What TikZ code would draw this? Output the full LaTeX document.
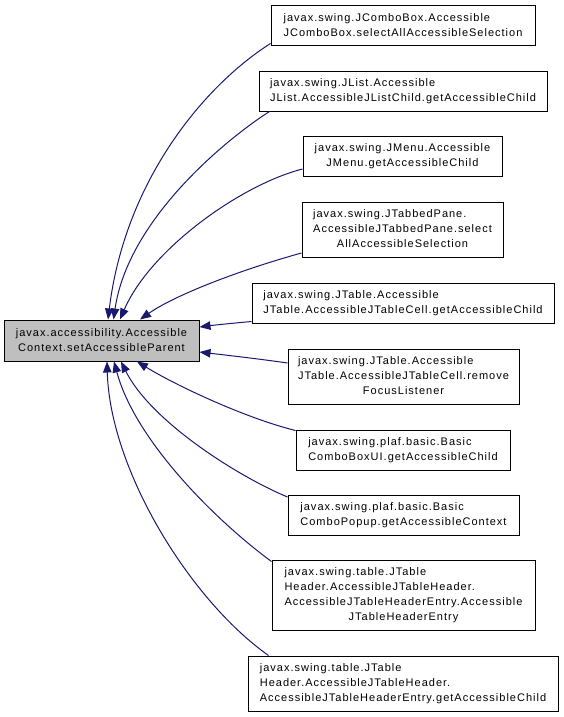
\documentclass[tikz,border=0pt]{standalone}
\usepackage{fontspec}
\setmainfont{Liberation Sans}[LetterSpace=9.1]
\usetikzlibrary{arrows.meta}
\definecolor{edgeblue}{HTML}{191970}
\definecolor{mainfill}{HTML}{BFBFBF}
\newcommand\lastln[1]{\multicolumn{1}{@{}c@{}}{#1}}
\newcommand\lbl[1]{\begin{tabular}{@{}l@{}}#1\end{tabular}}
\begin{document}
\begin{tikzpicture}[x=1pt,y=-1pt,
  cls/.style={draw=black, line width=1pt, rectangle, inner sep=0pt, fill=white,
    font=\fontsize{11}{15}\selectfont},
  dep/.style={draw=edgeblue, line width=1pt, -{Triangle[length=11pt,width=8.5pt]}, edgeblue}]
\useasboundingbox (0,0) rectangle (564,717);

\node[cls, fill=mainfill, minimum width=195pt, minimum height=41pt] (main) at (101.5,340.5)
  {\lbl{javax.accessibility.Accessible\\ \lastln{Context.setAccessibleParent}}};

\node[cls, minimum width=264pt, minimum height=40pt] (n1) at (403,26)
  {\lbl{javax.swing.JComboBox.Accessible\\ \lastln{JComboBox.selectAllAccessibleSelection}}};
\node[cls, minimum width=288pt, minimum height=40pt] (n2) at (403,91)
  {\lbl{javax.swing.JList.Accessible\\ \lastln{JList.AccessibleJListChild.getAccessibleChild}}};
\node[cls, minimum width=199pt, minimum height=40pt] (n3) at (402.5,156)
  {\lbl{javax.swing.JMenu.Accessible\\ \lastln{JMenu.getAccessibleChild}}};
\node[cls, minimum width=201pt, minimum height=55pt] (n4) at (402.5,229.5)
  {\lbl{javax.swing.JTabbedPane.\\ AccessibleJTabbedPane.select\\ \lastln{AllAccessibleSelection}}};
\node[cls, minimum width=302pt, minimum height=40pt] (n5) at (403,303)
  {\lbl{javax.swing.JTable.Accessible\\ \lastln{JTable.AccessibleJTableCell.getAccessibleChild}}};
\node[cls, minimum width=231pt, minimum height=55pt] (n6) at (403.5,376.5)
  {\lbl{javax.swing.JTable.Accessible\\ JTable.AccessibleJTableCell.remove\\ \lastln{FocusListener}}};
\node[cls, minimum width=214pt, minimum height=40pt] (n7) at (403,450)
  {\lbl{javax.swing.plaf.basic.Basic\\ \lastln{ComboBoxUI.getAccessibleChild}}};
\node[cls, minimum width=231pt, minimum height=40pt] (n8) at (403.5,515)
  {\lbl{javax.swing.plaf.basic.Basic\\ \lastln{ComboPopup.getAccessibleContext}}};
\node[cls, minimum width=263pt, minimum height=70pt] (n9) at (403.5,595)
  {\lbl{javax.swing.table.JTable\\ Header.AccessibleJTableHeader.\\ AccessibleJTableHeaderEntry.Accessible\\ \lastln{JTableHeaderEntry}}};
\node[cls, minimum width=310pt, minimum height=55pt] (n10) at (403,683.5)
  {\lbl{javax.swing.table.JTable\\ Header.AccessibleJTableHeader.\\ \lastln{AccessibleJTableHeaderEntry.getAccessibleChild}}};

\draw[dep] ([yshift=3pt]n1.south west) .. controls (205,85) and (125,180) .. ([xshift=6.5pt]main.north);
\draw[dep] ([xshift=11pt]n2.south west) .. controls (225,140) and (128,220) .. ([xshift=12pt]main.north);
\draw[dep] ([yshift=-13pt]n3.west) .. controls (240,185) and (150,250) .. ([xshift=18.5pt]main.north);
\draw[dep] ([yshift=-23.5pt]n4.west) .. controls (240,270) and (175,295) .. ([xshift=38.5pt]main.north);
\draw[dep] ([yshift=2pt]n5.south west) .. controls (235,323) and (215,325) .. ([yshift=13.5pt]main.east);
\draw[dep] ([yshift=13.5pt]n6.west) .. controls (260,359) and (225,355) .. ([yshift=-11.5pt]main.east);
\draw[dep] ([yshift=-1pt]n7.north west) .. controls (245,418) and (175,385) .. ([xshift=35.5pt]main.south);
\draw[dep] ([yshift=18pt]n8.west) .. controls (235,475) and (150,420) .. ([xshift=19.5pt]main.south);
\draw[dep] ([yshift=-2pt]n9.north west) .. controls (215,520) and (135,440) .. ([xshift=12.5pt]main.south);
\draw[dep] ([xshift=21pt]n10.north west) .. controls (190,600) and (110,470) .. ([xshift=5.5pt]main.south);
\end{tikzpicture}
\end{document}
